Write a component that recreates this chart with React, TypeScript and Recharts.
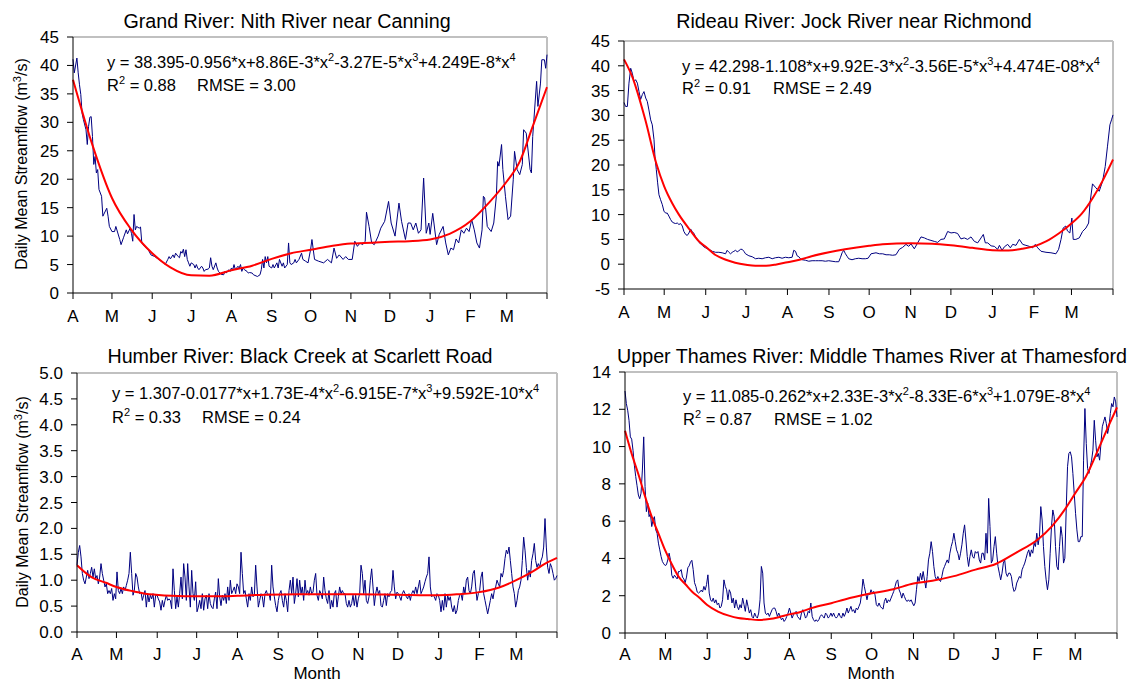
import React from 'react';
import { LineChart, Line, XAxis, YAxis, ReferenceLine } from 'recharts';

// month boundaries (days from 1 April) and their labels
const monthTicks = [0, 30, 61, 91, 122, 153, 183, 214, 244, 275, 306, 334, 365];
const monthLabels = ['A', 'M', 'J', 'J', 'A', 'S', 'O', 'N', 'D', 'J', 'F', 'M', ''];

// Grand River: Nith River near Canning  [day, m3/s]
const grandFlow: [number, number][] = [
  [0, 41.1], [1, 38.7], [3, 41.3], [4, 38.7], [5, 36.6], [6, 34.9], [7, 31.6], [8, 30.5], [10, 28.7], [11, 26.1],
  [12, 29.3], [13, 30.9], [14, 31.0], [15, 27.5], [16, 22.6], [17, 24.0], [18, 21.1], [19, 21.7], [20, 18.2], [22, 17.0],
  [23, 13.5], [26, 14.9], [27, 13.5], [28, 11.7], [30, 10.8], [32, 10.8], [33, 11.7], [36, 9.4], [37, 8.5], [39, 9.8],
  [41, 11.1], [42, 10.4], [44, 11.4], [45, 10.5], [46, 9.1], [47, 13.8], [48, 11.1], [49, 11.7], [51, 11.4], [52, 11.6],
  [53, 8.8], [55, 8.2], [58, 7.6], [60, 6.7], [63, 6.4], [66, 5.9], [68, 5.6], [70, 5.3], [71, 5.0], [73, 5.9],
  [74, 6.4], [75, 6.0], [77, 6.7], [78, 6.2], [79, 7.0], [81, 6.4], [82, 6.2], [83, 7.3], [84, 7.0], [85, 7.7],
  [86, 6.4], [87, 7.6], [88, 5.9], [89, 5.3], [90, 4.7], [91, 5.3], [93, 5.0], [94, 4.4], [95, 5.0], [96, 4.4],
  [97, 4.1], [99, 4.7], [100, 4.4], [101, 3.8], [102, 4.1], [104, 4.2], [105, 4.4], [106, 6.2], [107, 4.7], [108, 4.1],
  [110, 5.3], [111, 4.4], [112, 3.8], [114, 3.3], [116, 3.2], [117, 3.8], [118, 3.5], [120, 4.1], [121, 3.8], [122, 4.4],
  [123, 4.1], [124, 5.0], [125, 4.1], [127, 4.7], [128, 4.4], [129, 5.0], [130, 3.8], [131, 4.4], [132, 4.1], [134, 3.8],
  [135, 3.5], [136, 3.6], [138, 3.5], [139, 3.2], [141, 3.0], [142, 2.9], [144, 3.2], [145, 4.1], [146, 5.9], [147, 4.4],
  [148, 6.4], [149, 5.3], [150, 6.4], [151, 4.7], [153, 4.4], [154, 5.0], [155, 4.4], [157, 5.3], [158, 4.4], [159, 5.9],
  [161, 4.7], [162, 5.3], [163, 4.4], [165, 5.0], [166, 8.8], [167, 5.3], [168, 5.0], [170, 5.3], [171, 5.9], [172, 5.3],
  [174, 5.9], [176, 7.0], [177, 5.9], [179, 5.6], [181, 5.3], [183, 7.7], [184, 9.4], [186, 5.9], [189, 5.6], [193, 5.3],
  [196, 5.9], [199, 5.3], [201, 7.9], [203, 6.1], [205, 6.7], [208, 5.9], [210, 6.4], [212, 5.9], [215, 5.9], [217, 9.1],
  [219, 8.2], [221, 8.8], [223, 8.5], [225, 9.1], [226, 14.2], [228, 11.7], [230, 8.8], [232, 8.5], [235, 10.0], [237, 11.4],
  [240, 12.6], [243, 16.1], [245, 12.3], [248, 10.0], [251, 15.8], [253, 12.6], [256, 9.4], [258, 12.3], [260, 12.3], [262, 11.1],
  [264, 12.3], [266, 10.5], [268, 11.1], [270, 20.2], [272, 10.5], [274, 12.3], [275, 10.3], [277, 14.0], [280, 8.5], [282, 10.3],
  [285, 11.7], [287, 8.8], [289, 6.7], [291, 7.9], [293, 7.6], [295, 9.5], [297, 8.8], [299, 11.1], [301, 10.5], [303, 11.4],
  [305, 10.8], [307, 12.9], [309, 11.1], [311, 8.8], [313, 7.9], [315, 11.1], [316, 17.0], [317, 16.7], [319, 11.7], [322, 10.8],
  [324, 12.3], [326, 17.0], [327, 23.1], [328, 22.3], [330, 26.1], [331, 21.7], [333, 17.0], [335, 12.9], [337, 13.5], [339, 19.9],
  [340, 24.9], [342, 21.7], [344, 20.8], [346, 22.6], [347, 28.7], [349, 28.1], [352, 21.7], [353, 21.1], [354, 27.5], [357, 37.2],
  [358, 32.8], [360, 36.9], [361, 41.0], [363, 41.0], [364, 39.5], [365, 41.9],
];
const grandFit: [number, number][] = [
  [0, 37.5], [15, 26.0], [30, 16.7], [45, 11.1], [61, 7.0], [75, 4.5], [91, 3.1], [105, 3.05], [122, 4.0], [138, 4.8],
  [153, 6.0], [168, 7.0], [183, 7.6], [200, 8.3], [214, 8.7], [230, 8.85], [244, 9.0], [259, 9.1], [275, 9.4], [290, 10.4],
  [306, 12.6], [320, 15.8], [334, 19.6], [344, 23.1], [354, 29.3], [365, 36.2],
];

// Rideau River: Jock River near Richmond  [day, m3/s]
const rideauFlow: [number, number][] = [
  [0, 32.6], [1.2, 31.8], [2.5, 31.8], [3.7, 36.5], [5, 39.5], [6.2, 38.5], [7.5, 36.8], [8.7, 37.2], [10, 36.5], [11.2, 34.8],
  [12.4, 33.2], [13.7, 34.2], [14.9, 34.8], [16.2, 33.5], [17.4, 32.8], [18.6, 31.1], [19.9, 29.1], [21.1, 28.1], [22.4, 25.1], [23.1, 21.7],
  [24.1, 19.1], [25.1, 16.4], [26.1, 14.0], [27.3, 13.0], [28.6, 12.0], [29.8, 10.7], [31.1, 10.3], [32.3, 10.3], [33.5, 9.7], [34.8, 9.0],
  [36, 8.5], [37.3, 8.3], [38.5, 8.2], [39.8, 8.3], [41, 8.0], [42.2, 8.2], [43.5, 7.7], [44.7, 6.6], [46, 6.0], [47.2, 5.8],
  [48.5, 6.3], [49.7, 7.1], [50.9, 6.6], [52.2, 6.2], [53.4, 5.5], [54.7, 5.0], [55.9, 4.4], [57.2, 4.1], [58.4, 3.8], [59.6, 3.5],
  [60.9, 3.3], [63.4, 3.0], [65.9, 2.6], [68.3, 2.4], [70.8, 2.4], [73.3, 2.3], [75.8, 2.1], [77, 2.8], [78.3, 2.4], [79.5, 2.1],
  [80.8, 2.4], [82, 2.6], [83.3, 2.8], [84.5, 2.5], [85.7, 2.7], [87, 3.0], [88.2, 3.0], [89.5, 2.6], [90.7, 2.1], [93.2, 1.7],
  [95.7, 1.5], [98.2, 1.1], [100.6, 1.2], [103.1, 1.1], [105.6, 1.3], [108.1, 1.4], [110.6, 1.1], [113, 1.3], [115.6, 1.4], [118, 1.2],
  [120.5, 1.4], [123, 1.3], [125.5, 1.4], [126.7, 2.8], [128, 2.6], [129.2, 1.7], [130.5, 1.5], [131.7, 1.1], [133, 0.9], [135.4, 0.8],
  [137.9, 0.6], [140.4, 0.7], [142.9, 0.7], [145.4, 0.7], [147.9, 0.7], [150.3, 0.6], [152.8, 0.7], [155.3, 0.6], [157.8, 0.5], [160.3, 0.5],
  [161.5, 1.3], [162.8, 2.3], [164, 2.8], [165.3, 2.1], [166.5, 1.6], [167.7, 1.1], [170.2, 0.9], [172.7, 1.1], [175.2, 1.2], [177.7, 1.1],
  [180.2, 1.1], [182.2, 1.2], [184.4, 2.1], [188.1, 2.3], [190.6, 2.1], [193.1, 2.1], [195.6, 1.9], [198, 1.9], [200.5, 1.8], [203, 1.9],
  [205.5, 3.0], [208, 3.4], [210.5, 4.0], [212.5, 3.6], [214.2, 4.1], [216.7, 3.1], [219.2, 4.3], [221.7, 5.5], [224.2, 5.3], [226.6, 5.0],
  [229.1, 4.8], [231.6, 4.6], [234.1, 4.4], [236.6, 5.0], [239.1, 5.1], [241.6, 6.6], [244.1, 6.3], [246.5, 6.4], [249, 6.2], [251.5, 5.1],
  [254, 5.3], [256.5, 5.0], [259, 5.5], [261.5, 4.6], [264, 4.3], [266.5, 5.3], [268.2, 6.0], [269.7, 4.3], [271.5, 4.3], [274, 3.7],
  [276.4, 3.6], [278.9, 3.0], [280.2, 3.8], [282.2, 2.8], [283.9, 3.5], [286.4, 4.0], [288.4, 3.3], [290.1, 4.0], [292.6, 3.8], [295.1, 5.0],
  [297.6, 4.0], [300, 3.8], [302.5, 3.6], [305, 3.3], [307, 4.0], [308.8, 3.3], [311.3, 2.6], [315, 2.4], [318.7, 2.3], [322.4, 2.1],
  [324.4, 3.0], [326.2, 5.0], [327.8, 7.3], [329.8, 7.7], [331, 6.7], [332.8, 6.3], [334.3, 9.3], [335.3, 5.0], [337.3, 5.0], [339.8, 5.3],
  [342.3, 6.6], [344.8, 7.3], [346.8, 8.3], [347.8, 12.3], [349.7, 16.2], [352.2, 15.4], [354.7, 14.7], [357.2, 16.7], [359.2, 19.7], [360.9, 23.8],
  [362.7, 28.1], [363.9, 29.1], [365, 30.1],
];
const rideauFit: [number, number][] = [
  [0, 41.3], [6, 37.9], [16, 29.0], [24, 20.4], [30, 15.7], [36, 12.3], [41, 10.0], [49, 7.0], [56, 4.6], [61, 3.5],
  [68, 1.9], [76, 0.9], [83, 0.3], [91, -0.1], [98, -0.3], [106, -0.3], [113, -0.1], [122, 0.4], [131, 0.9], [140, 1.6],
  [153, 2.4], [165, 3.0], [183, 3.7], [193, 4.0], [214, 4.2], [230, 4.1], [244, 3.8], [260, 3.3], [275, 2.8], [287, 2.75],
  [297, 3.1], [306, 3.6], [315, 4.6], [325, 6.3], [334, 8.2], [342, 10.3], [350, 13.4], [357, 16.7], [365, 21.1],
];

// Humber River: Black Creek at Scarlett Road, daily readings from 1 April
const humberFlow = [
  1.29, 1.54, 1.67, 1.45, 1.13, 1.0, 0.93, 1.06, 1.19, 1.03, 1.13, 1.25, 1.06, 1.22, 1.03, 1.09, 0.93, 1.06, 1.32, 1.13,
  1.0, 0.87, 0.93, 0.74, 0.8, 0.74, 0.84, 0.61, 0.74, 0.64, 1.16, 0.8, 0.74, 0.84, 0.74, 0.87, 0.8, 0.9, 1.0, 1.13,
  1.54, 1.13, 0.71, 0.8, 1.13, 1.06, 0.87, 0.74, 0.77, 0.61, 0.71, 0.8, 0.48, 0.74, 0.58, 0.71, 0.64, 0.74, 0.48, 0.71,
  0.71, 0.64, 0.58, 0.42, 0.61, 0.48, 0.61, 0.71, 0.61, 0.64, 0.61, 0.45, 1.22, 0.8, 0.45, 0.68, 0.48, 0.74, 1.06, 0.64,
  1.32, 1.06, 0.61, 1.32, 0.87, 0.48, 1.19, 0.74, 0.61, 0.97, 0.39, 0.48, 0.61, 0.45, 0.74, 0.42, 0.64, 0.71, 0.45, 0.74,
  0.55, 0.48, 0.45, 0.64, 0.77, 0.45, 1.03, 0.68, 0.51, 0.71, 0.61, 0.74, 0.55, 0.87, 0.61, 1.0, 0.74, 0.8, 0.87, 0.74,
  0.93, 0.87, 0.74, 1.54, 1.13, 0.74, 0.8, 0.64, 0.48, 0.74, 0.61, 0.87, 0.68, 0.71, 1.29, 0.87, 0.48, 0.61, 0.74, 0.68,
  0.48, 0.74, 0.8, 0.71, 0.74, 0.61, 1.29, 0.87, 0.68, 0.51, 0.39, 0.61, 0.74, 0.8, 0.61, 0.48, 0.74, 0.61, 0.39, 0.8,
  1.0, 0.74, 1.06, 0.55, 0.74, 1.03, 0.68, 1.0, 0.74, 0.87, 0.61, 1.0, 0.74, 0.8, 0.71, 0.87, 0.74, 0.77, 1.0,
  1.13, 0.71, 0.61, 0.8, 0.74, 0.64, 1.06, 0.8, 0.64, 0.55, 0.8, 0.45, 0.61, 0.48, 0.74, 0.8, 0.48, 0.68, 0.87, 0.74,
  0.8, 0.74, 0.74, 0.55, 0.48, 0.61, 0.48, 0.55, 0.71, 0.51, 0.71, 0.48, 0.64, 0.74, 1.29, 1.13, 0.74, 1.0, 0.61, 0.55,
  0.68, 1.0, 1.22, 0.87, 0.51, 0.74, 0.87, 0.74, 0.8, 0.51, 0.48, 0.61, 0.74, 0.51, 0.74, 0.68, 0.77, 0.8, 1.19, 0.87,
  0.64, 0.77, 0.74, 0.68, 0.61, 0.74, 0.8, 0.74, 0.68, 0.64, 0.74, 0.61, 0.74, 0.8, 0.74, 0.87, 0.74, 0.87, 1.0, 0.74,
  0.8, 0.87, 0.97, 1.06, 1.13, 1.45, 0.87, 0.68, 0.71, 0.68, 0.61, 0.74, 0.71, 0.61, 0.39, 0.61, 0.42, 0.74, 0.48, 0.71,
  0.61, 0.68, 0.48, 0.39, 0.51, 0.35, 0.42, 0.61, 0.71, 0.74, 0.61, 0.87, 0.74, 1.0, 1.06, 0.8, 0.74, 0.87, 1.13, 1.19,
  0.87, 0.61, 0.74, 0.8, 1.06, 1.16, 0.74, 0.61, 0.48, 0.35, 0.48, 0.61, 0.74, 0.64, 0.8, 0.87, 1.0, 0.93, 0.87, 1.13,
  1.06, 1.19, 1.42, 1.58, 1.51, 1.64, 1.38, 1.13, 0.87, 0.74, 0.48, 0.61, 0.8, 0.87, 1.0, 1.38, 1.83, 1.58, 1.25, 1.0,
  1.19, 1.06, 1.38, 1.51, 1.71, 1.38, 1.25, 1.32, 1.25, 1.38, 1.45, 1.64, 2.19, 1.64, 1.25, 1.13, 1.32, 1.25, 1.13, 1.0,
  1.03, 1.09,
];
const humberFit: [number, number][] = [
  [0, 1.29], [11, 1.06], [22, 0.95], [30, 0.87], [42, 0.79], [52, 0.74], [60, 0.72], [72, 0.7], [91, 0.69], [105, 0.69],
  [122, 0.7], [143, 0.72], [168, 0.73], [181, 0.73], [214, 0.73], [244, 0.72], [275, 0.71], [290, 0.73], [306, 0.77], [321, 0.86],
  [334, 1.0], [346, 1.16], [356, 1.32], [365, 1.43],
];

// Upper Thames River: Middle Thames River at Thamesford, daily readings from 1 April
const thamesFlow = [
  12.98, 12.31, 11.95, 11.41, 10.52, 10.4, 9.8, 9.0, 8.4, 7.9, 7.4, 7.2, 7.5, 8.74, 10.52, 7.85, 6.51, 6.96, 6.24, 6.42,
  5.71, 6.06, 6.24, 5.53, 5.35, 4.82, 4.46, 4.1, 3.83, 3.71, 3.62, 3.66, 3.92, 4.28, 3.92, 3.1, 2.94, 3.1, 3.0, 2.9,
  3.3, 3.3, 3.4, 3.0, 2.9, 2.7, 3.0, 3.5, 3.6, 3.8, 3.9, 3.4, 2.7, 2.5, 2.2, 2.14, 2.2, 2.3, 2.2, 2.5,
  2.3, 2.6, 3.12, 2.14, 1.78, 1.69, 1.87, 1.61, 1.78, 1.52, 1.61, 1.34, 1.43, 1.78, 2.85, 2.5, 2.32, 1.78, 2.32, 2.14,
  1.61, 1.87, 1.34, 1.78, 1.43, 1.25, 1.52, 1.34, 1.87, 1.52, 1.16, 1.78, 1.43, 1.07, 1.25, 0.89, 0.8, 1.07, 0.89, 0.8,
  1.07, 1.78, 3.57, 3.21, 1.61, 1.07, 0.98, 1.07, 0.89, 1.07, 1.25, 1.34, 1.34, 1.16, 0.89, 1.07, 0.89, 0.71, 0.8, 0.62,
  0.71, 0.89, 1.07, 1.34, 1.07, 0.8, 0.98, 1.07, 1.16, 0.89, 0.8, 0.71, 1.07, 1.25, 1.07, 0.8, 0.89, 1.16, 1.07, 1.61,
  0.89, 0.71, 0.62, 0.71, 0.62, 0.71, 0.89, 0.98, 0.89, 0.8, 1.07, 0.98, 0.8, 0.89, 1.07, 0.89, 1.07, 0.89, 0.8, 0.89,
  1.07, 0.89, 0.8, 1.07, 0.89, 1.07, 1.34, 1.07, 1.25, 1.43, 1.16, 1.25, 1.07, 1.34, 1.25, 1.43, 1.61, 2.14, 2.89, 2.5,
  2.14, 1.78, 2.14, 2.05,
  2.32, 2.14, 2.23, 2.05, 1.52, 1.43, 1.61, 1.43, 1.34, 1.28, 1.69, 1.87, 1.61, 1.78, 1.69, 1.87, 2.05, 2.23, 2.5, 2.76,
  2.85, 2.32, 2.14, 1.87, 2.14, 1.96, 1.78, 1.69, 1.78, 1.69, 1.78, 1.61, 1.46, 1.61, 2.32, 3.03, 2.76, 3.21, 2.85, 3.3,
  2.85, 2.41, 3.03, 3.92, 4.28, 4.9, 4.37, 3.57, 3.03, 2.85, 3.03, 2.85, 2.76, 3.03, 3.39, 3.57, 3.75, 3.92, 3.75, 4.28,
  4.64, 4.9, 5.35, 4.9, 4.46, 4.28, 3.92, 4.28, 4.73, 5.35, 5.8, 4.99, 4.1, 3.57, 4.1, 4.46, 4.1, 4.01, 4.37, 4.28,
  4.37, 3.92, 3.75, 4.28, 4.28, 3.92, 5.35, 4.28, 7.22, 5.71, 3.75, 3.92, 4.64, 5.17, 4.28, 3.57, 3.21, 2.85, 3.21, 3.75,
  3.92, 3.21, 3.03, 3.21, 3.21, 3.03, 2.5, 2.23, 2.32, 2.68, 2.85, 3.03, 2.94, 3.39, 3.57, 3.75, 4.01, 4.28, 4.46, 4.1,
  4.46, 4.28, 4.82, 4.64, 5.35, 4.73, 5.17, 6.78, 6.06, 4.64, 3.57, 2.85, 2.32, 2.85, 4.28, 5.71, 6.6, 6.24, 4.64, 3.57,
  3.39, 4.64, 5.71, 5.17, 3.75, 4.01, 6.6, 8.92, 9.63, 9.72, 9.45, 8.56, 7.49, 6.42, 5.53, 4.9, 4.9, 5.17, 5.17, 9.27,
  12.04, 10.17, 8.83, 8.56, 8.92, 9.27, 9.81, 11.41, 10.34, 9.45, 9.63, 9.27, 10.17, 11.06, 11.33, 11.59, 11.24, 10.7, 11.06, 11.77,
  12.31, 12.13, 12.66, 12.4, 11.59,
];
const thamesFit: [number, number][] = [
  [0, 10.85], [5, 9.6], [10, 8.5], [15, 7.3], [20, 6.2], [25, 5.3], [30, 4.4], [35, 3.65], [40, 3.0], [45, 2.6],
  [50, 2.2], [55, 1.9], [61, 1.5], [69, 1.15], [77, 0.93], [84, 0.8], [91, 0.75], [99, 0.7], [107, 0.75], [114, 0.85],
  [122, 1.0], [129, 1.1], [139, 1.35], [153, 1.6], [163, 1.8], [181, 2.1], [199, 2.35], [214, 2.65], [228, 2.8], [244, 3.05],
  [260, 3.4], [275, 3.7], [290, 4.3], [306, 5.0], [317, 5.75], [327, 6.7], [334, 7.5], [342, 8.4], [352, 10.0], [359, 11.15],
  [365, 12.1],
];

const titles = [
  'Grand River: Nith River near Canning',
  'Rideau River: Jock River near Richmond',
  'Humber River: Black Creek at Scarlett Road',
  'Upper Thames River: Middle Thames River at Thamesford',
];
// equation pieces: normal text alternates with superscript exponents
const equations = [
  ['y = 38.395-0.956*x+8.86E-3*x', '2', '-3.27E-5*x', '3', '+4.249E-8*x', '4'],
  ['y = 42.298-1.108*x+9.92E-3*x', '2', '-3.56E-5*x', '3', '+4.474E-08*x', '4'],
  ['y = 1.307-0.0177*x+1.73E-4*x', '2', '-6.915E-7*x', '3', '+9.592E-10*x', '4'],
  ['y = 11.085-0.262*x+2.33E-3*x', '2', '-8.33E-6*x', '3', '+1.079E-8*x', '4'],
];
const r2Values = ['0.88', '0.91', '0.33', '0.87'];
const rmseValues = ['3.00', '2.49', '0.24', '1.02'];

const FONT = '"Liberation Sans", Arial, Helvetica, sans-serif';

type Row = { d: number; q?: number; f?: number };

const spreadDaily = (vals: number[]): [number, number][] =>
  vals.map((v, i) => [(i * 365) / (vals.length - 1), v]);

function buildRows(flow: [number, number][], fit: [number, number][]): Row[] {
  const rows: Row[] = [];
  flow.forEach(([d, q]) => rows.push({ d, q }));
  fit.forEach(([d, f]) => rows.push({ d, f }));
  return rows.sort((a, b) => a.d - b.d);
}

const MonthTick = (props: any) => {
  const { x, y, payload } = props;
  const idx = monthTicks.indexOf(payload.value);
  return (
    <text x={x} y={y} dy="0.71em" textAnchor="middle" fontSize={17} fontFamily={FONT} fill="#000">
      {monthLabels[idx]}
    </text>
  );
};

interface PanelProps {
  box: { x: number; y: number; w: number; h: number };
  plot: { l: number; r: number; t: number; b: number };
  rows: Row[];
  domain: [number, number];
  yTicks: number[];
  xTickMargin: number;
  fmt?: (v: number) => string;
}

const Panel = ({ box, plot, rows, domain, yTicks, xTickMargin, fmt }: PanelProps) => (
  <div style={{ position: 'absolute', left: box.x, top: box.y }}>
    <LineChart
      width={box.w}
      height={box.h}
      data={rows}
      margin={{ top: plot.t - box.y, right: box.x + box.w - plot.r, left: 0, bottom: 0 }}
    >
      <XAxis
        type="number"
        dataKey="d"
        domain={[0, 365]}
        ticks={monthTicks}
        interval={0}
        height={box.y + box.h - plot.b}
        tick={<MonthTick />}
        tickSize={6}
        tickMargin={xTickMargin}
        axisLine={{ stroke: '#000' }}
        tickLine={{ stroke: '#000' }}
      />
      <YAxis
        type="number"
        domain={domain}
        ticks={yTicks}
        interval={0}
        width={plot.l - box.x}
        tickSize={6}
        tickMargin={8}
        tick={{ fontSize: 17, fill: '#000', fontFamily: FONT }}
        tickFormatter={fmt}
        axisLine={{ stroke: '#000' }}
        tickLine={{ stroke: '#000' }}
      />
      <ReferenceLine y={domain[1]} stroke="#c0c0c0" strokeWidth={2} />
      <ReferenceLine x={365} stroke="#c0c0c0" strokeWidth={2} />
      <Line
        dataKey="q"
        type="linear"
        stroke="#000080"
        strokeWidth={1}
        dot={false}
        activeDot={false}
        connectNulls
        isAnimationActive={false}
      />
      <Line
        dataKey="f"
        type="monotone"
        stroke="#ff0000"
        strokeWidth={2}
        dot={false}
        activeDot={false}
        connectNulls
        isAnimationActive={false}
      />
    </LineChart>
  </div>
);

const Equation = ({ x, y, parts }: { x: number; y: number; parts: string[] }) => (
  <text x={x} y={y} fontSize={16.5} fontFamily={FONT} fill="#000">
    {parts.map((p, i) =>
      i % 2 === 1 ? (
        <tspan key={i} dy={-7} fontSize={11}>{p}</tspan>
      ) : (
        <tspan key={i} dy={i === 0 ? 0 : 7}>{p}</tspan>
      )
    )}
  </text>
);

const Stats = ({ x, y, xr, r2, rmse }: { x: number; y: number; xr: number; r2: string; rmse: string }) => (
  <g fontSize={16.5} fontFamily={FONT} fill="#000">
    <text x={x} y={y}>
      R<tspan dy={-7} fontSize={11}>2</tspan>
      <tspan dy={7}> = {r2}</tspan>
    </text>
    <text x={xr} y={y}>RMSE = {rmse}</text>
  </g>
);

const YLabel = ({ x, y }: { x: number; y: number }) => (
  <text
    x={x}
    y={y}
    transform={`rotate(-90, ${x}, ${y})`}
    textAnchor="middle"
    fontSize={16}
    fontFamily={FONT}
    fill="#000"
  >
    Daily Mean Streamflow (m<tspan dy={-6} fontSize={11}>3</tspan>
    <tspan dy={6}>/s)</tspan>
  </text>
);

export default function App() {
  const grandRows = buildRows(grandFlow, grandFit);
  const rideauRows = buildRows(rideauFlow, rideauFit);
  const humberRows = buildRows(spreadDaily(humberFlow), humberFit);
  const thamesRows = buildRows(spreadDaily(thamesFlow), thamesFit);

  return (
    <div
      style={{
        position: 'absolute',
        left: 0,
        top: 0,
        width: 1130,
        height: 683,
        background: '#fff',
        fontFamily: FONT,
        overflow: 'hidden',
      }}
    >
      <Panel
        box={{ x: 0, y: 0, w: 560, h: 330 }}
        plot={{ l: 73, r: 547, t: 37, b: 293 }}
        rows={grandRows}
        domain={[0, 45]}
        yTicks={[0, 5, 10, 15, 20, 25, 30, 35, 40, 45]}
        xTickMargin={11}
      />
      <Panel
        box={{ x: 565, y: 0, w: 565, h: 330 }}
        plot={{ l: 624, r: 1113, t: 41, b: 289 }}
        rows={rideauRows}
        domain={[-5, 45]}
        yTicks={[-5, 0, 5, 10, 15, 20, 25, 30, 35, 40, 45]}
        xTickMargin={11}
      />
      <Panel
        box={{ x: 0, y: 340, w: 565, h: 343 }}
        plot={{ l: 77, r: 557, t: 373, b: 632 }}
        rows={humberRows}
        domain={[0, 5]}
        yTicks={[0, 0.5, 1, 1.5, 2, 2.5, 3, 3.5, 4, 4.5, 5]}
        xTickMargin={10}
        fmt={(v) => v.toFixed(1)}
      />
      <Panel
        box={{ x: 565, y: 340, w: 565, h: 343 }}
        plot={{ l: 625, r: 1117, t: 372, b: 633 }}
        rows={thamesRows}
        domain={[0, 14]}
        yTicks={[0, 2, 4, 6, 8, 10, 12, 14]}
        xTickMargin={9}
      />
      <svg
        width={1130}
        height={683}
        style={{ position: 'absolute', left: 0, top: 0, pointerEvents: 'none' }}
      >
        <g fontSize={19.7} fontFamily={FONT} fill="#000" textAnchor="middle">
          <text x={287} y={28}>{titles[0]}</text>
          <text x={854} y={28}>{titles[1]}</text>
          <text x={300} y={363}>{titles[2]}</text>
          <text x={872} y={363}>{titles[3]}</text>
        </g>
        <Equation x={107} y={68} parts={equations[0]} />
        <Stats x={107} y={91} xr={197} r2={r2Values[0]} rmse={rmseValues[0]} />
        <Equation x={682} y={72} parts={equations[1]} />
        <Stats x={682} y={94} xr={773} r2={r2Values[1]} rmse={rmseValues[1]} />
        <Equation x={112} y={399} parts={equations[2]} />
        <Stats x={112} y={423} xr={202} r2={r2Values[2]} rmse={rmseValues[2]} />
        <Equation x={683} y={402} parts={equations[3]} />
        <Stats x={683} y={425} xr={774} r2={r2Values[3]} rmse={rmseValues[3]} />
        <YLabel x={27} y={164} />
        <YLabel x={28} y={502} />
        <g fontSize={17} fontFamily={FONT} fill="#000" textAnchor="middle">
          <text x={317} y={679}>Month</text>
          <text x={871} y={679}>Month</text>
        </g>
      </svg>
    </div>
  );
}
